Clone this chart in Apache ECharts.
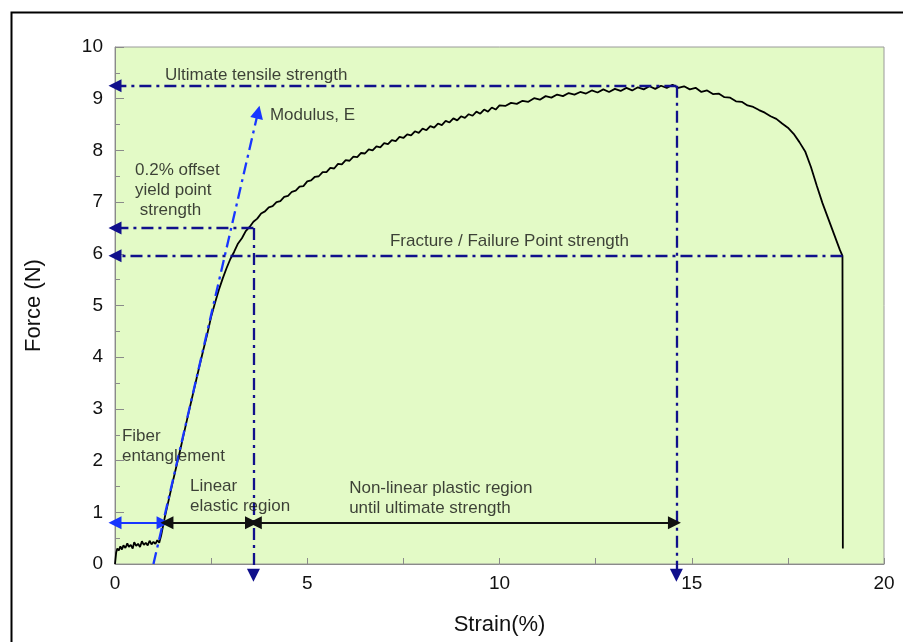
<!DOCTYPE html>
<html>
<head>
<meta charset="utf-8">
<script src="https://cdn.jsdelivr.net/npm/echarts@6/dist/echarts.min.js"></script>
<style>
  html,body{margin:0;padding:0;background:#fff;}
  #main{width:903px;height:642px;}
</style>
</head>
<body>
<div id="main"></div>
<script>
// tensile test curve
var strain = [0,0.03,0.06,0.1,0.14,0.18,0.22,0.27,0.32,0.36,0.41,0.46,0.5,0.55,0.6,0.65,0.7,0.75,0.8,0.85,0.9,0.95,1.0,1.05,1.1,1.15,1.2,
  1.3,1.4,1.5,1.6,1.7,1.8,1.9,2.0,2.1,2.2,2.3,2.4,2.5,2.6,2.7,2.8,2.9,3.0,3.1,3.2,3.3,3.4,3.5,3.6,3.7,3.8,3.9,4.0,
  4.1,4.2,4.3,4.4,4.5,4.6,4.7,4.8,4.9,5.0,5.1,5.2,5.3,5.4,5.5,5.6,5.7,5.8,5.9,6.0,6.1,6.2,6.3,6.4,6.5,6.6,6.7,6.8,6.9,7.0,
  7.1,7.2,7.3,7.4,7.5,7.6,7.7,7.8,7.9,8.0,8.1,8.2,8.3,8.4,8.5,8.6,8.7,8.8,8.9,9.0,9.1,9.2,9.3,9.4,9.5,9.6,9.7,9.8,9.9,10.0,
  10.15,10.3,10.45,10.6,10.75,10.9,11.05,11.2,11.35,11.5,11.65,11.8,11.95,12.1,12.25,12.4,12.55,12.7,12.85,13.0,13.15,13.3,13.45,13.6,13.75,13.9,14.05,14.2,14.35,14.5,
  14.65,14.8,14.95,15.1,15.25,15.4,15.55,15.7,15.85,16.0,16.15,16.3,16.45,16.6,16.75,16.9,17.05,17.2,17.35,17.5,17.65,17.8,17.95,18.1,18.25,18.4,18.55,18.7,18.85,18.92,18.93];
var force = [0,0.22,0.3,0.26,0.34,0.28,0.36,0.31,0.4,0.33,0.37,0.3,0.42,0.35,0.39,0.33,0.44,0.37,0.41,0.36,0.45,0.38,0.43,0.39,0.46,0.41,0.55,
  0.92,1.25,1.58,1.9,2.22,2.55,2.88,3.2,3.52,3.84,4.15,4.45,4.78,5.05,5.3,5.52,5.72,5.9,6.04,6.2,6.3,6.44,6.52,6.62,6.68,6.78,6.82,6.9,
  6.92,7.0,7.02,7.1,7.12,7.2,7.22,7.3,7.31,7.4,7.42,7.49,7.5,7.58,7.58,7.66,7.65,7.74,7.73,7.81,7.8,7.88,7.87,7.95,7.94,8.02,8.0,8.08,8.06,8.14,
  8.12,8.2,8.18,8.26,8.24,8.31,8.29,8.37,8.34,8.42,8.39,8.47,8.44,8.52,8.49,8.57,8.54,8.62,8.58,8.66,8.63,8.7,8.67,8.75,8.71,8.79,8.75,8.83,8.79,8.87,
  8.86,8.92,8.9,8.96,8.94,9.01,8.98,9.05,9.02,9.08,9.05,9.11,9.08,9.13,9.1,9.16,9.12,9.18,9.13,9.19,9.15,9.21,9.16,9.22,9.18,9.24,9.19,9.25,9.21,9.27,
  9.21,9.24,9.18,9.21,9.13,9.16,9.09,9.1,9.03,9.02,8.95,8.94,8.87,8.84,8.78,8.73,8.66,8.61,8.52,8.44,8.32,8.16,7.98,7.68,7.32,6.98,6.68,6.38,6.08,5.96,0.3];

var xTicks = [0, 5, 10, 15, 20];
var yTicks = [0, 1, 2, 3, 4, 5, 6, 7, 8, 9, 10];

// key points
var uts = [14.6, 9.25];
var yieldPt = [3.6, 6.5];
var fracture = [18.92, 5.96];
var modulusLine = [[1.0, 0], [3.72, 8.74]];
var arrowY = 0.8;
var fiberSpan = [0, 1.25];
var linearSpan = [1.35, 3.55];
var plasticSpan = [3.65, 14.55];
var belowAxis = -0.22;

// annotation texts [x, y, text]
var notes = [
  [1.3, 9.46, 'Ultimate tensile strength'],
  [4.03, 8.68, 'Modulus, E'],
  [0.52, 7.23, '0.2% offset\nyield point\n strength'],
  [7.15, 6.25, 'Fracture / Failure Point strength'],
  [0.18, 2.28, 'Fiber\nentanglement'],
  [1.95, 1.3, 'Linear\nelastic region'],
  [6.09, 1.28, 'Non-linear plastic region\nuntil ultimate strength']
];

var navy = '#10108c';
var blue = '#1836ff';
var dashDot = [12, 5, 3, 5];

var curve = strain.map(function (s, i) { return [s, force[i]]; });

var navyLines = [
  { coords: [uts, [0, uts[1]]], symbol: ['none', 'triangle'] },
  { coords: [uts, [uts[0], belowAxis]], symbol: ['none', 'triangle'] },
  { coords: [yieldPt, [0, yieldPt[1]]], symbol: ['none', 'triangle'] },
  { coords: [yieldPt, [yieldPt[0], belowAxis]], symbol: ['none', 'triangle'] },
  { coords: [fracture, [0, fracture[1]]], symbol: ['none', 'triangle'] }
];

var myChart = echarts.init(document.getElementById('main'));
var option = {
  backgroundColor: '#fff',
  animation: false,
  textStyle: { fontFamily: 'Liberation Sans, Arial, sans-serif' },
  grid: { left: 115, right: 19, top: 47, bottom: 78, show: true, backgroundColor: '#e3fac6', borderColor: '#9a9a9a', borderWidth: 1 },
  graphic: [{
    type: 'rect', left: 9, top: 10, shape: { width: 1000, height: 1000 },
    style: { fill: 'none', stroke: '#000', lineWidth: 2 }, z: 100
  }],
  xAxis: {
    type: 'value', min: 0, max: 20, interval: 5,
    name: 'Strain(%)', nameLocation: 'middle', nameGap: 50,
    nameTextStyle: { fontSize: 22, color: '#111' },
    axisLine: { show: true, lineStyle: { color: '#8a8a8a' } },
    axisTick: { show: true, inside: true, length: 6, lineStyle: { color: '#8a8a8a' } },
    minorTick: { show: true, splitNumber: 2, length: 6, lineStyle: { color: '#8a8a8a' } },
    axisLabel: { fontSize: 19, color: '#111', margin: 10,
      formatter: function (v) { return xTicks.indexOf(v) >= 0 ? String(v) : ''; } },
    splitLine: { show: false }
  },
  yAxis: {
    type: 'value', min: 0, max: 10, interval: 1,
    name: 'Force (N)', nameLocation: 'middle', nameGap: 70,
    nameTextStyle: { fontSize: 22, color: '#111' },
    axisLine: { show: true, lineStyle: { color: '#8a8a8a' } },
    axisTick: { show: true, inside: true, length: 9, lineStyle: { color: '#8a8a8a' } },
    minorTick: { show: true, splitNumber: 2, length: 5, lineStyle: { color: '#8a8a8a' } },
    axisLabel: { fontSize: 19, color: '#111', margin: 12,
      formatter: function (v) { return yTicks.indexOf(v) >= 0 ? String(v) : ''; } },
    splitLine: { show: false }
  },
  series: [
    {
      type: 'line', data: curve, showSymbol: false, z: 5,
      lineStyle: { color: '#000', width: 1.8 }
    },
    {
      type: 'lines', coordinateSystem: 'cartesian2d', clip: false, z: 6,
      symbolSize: 13,
      lineStyle: { color: navy, width: 2.3, type: dashDot, opacity: 1 },
      data: navyLines
    },
    {
      type: 'lines', coordinateSystem: 'cartesian2d', clip: false, z: 7,
      symbol: ['none', 'triangle'], symbolSize: 13,
      lineStyle: { color: blue, width: 2.3, type: dashDot, opacity: 1 },
      data: [{ coords: modulusLine }]
    },
    {
      type: 'lines', coordinateSystem: 'cartesian2d', clip: false, z: 8,
      symbol: ['triangle', 'triangle'], symbolSize: 13,
      data: [
        { coords: [[fiberSpan[0], arrowY], [fiberSpan[1], arrowY]], lineStyle: { color: blue, width: 2, opacity: 1 } },
        { coords: [[linearSpan[0], arrowY], [linearSpan[1], arrowY]], lineStyle: { color: '#111', width: 2, opacity: 1 } },
        { coords: [[plasticSpan[0], arrowY], [plasticSpan[1], arrowY]], lineStyle: { color: '#111', width: 2, opacity: 1 } }
      ]
    },
    {
      type: 'scatter', symbolSize: 0, z: 9,
      data: notes.map(function (n) { return { value: [n[0], n[1]], text: n[2] }; }),
      label: {
        show: true, position: 'inside', align: 'left', verticalAlign: 'middle',
        fontSize: 17, lineHeight: 20, color: '#111',
        formatter: function (p) { return p.data.text; }
      },
      emphasis: { disabled: true }
    }
  ]
};
myChart.setOption(option);
</script>
</body>
</html>
